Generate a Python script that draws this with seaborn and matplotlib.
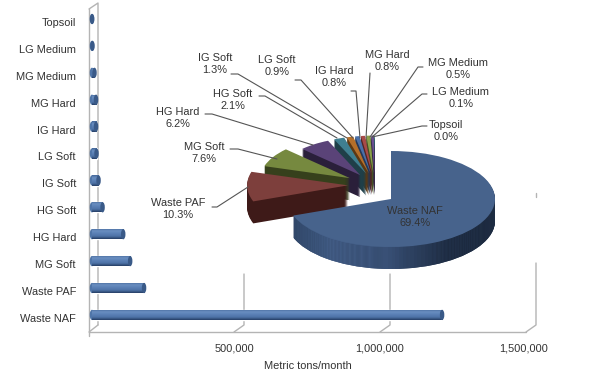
import matplotlib
matplotlib.use("Agg")
import matplotlib.pyplot as plt
import numpy as np
import seaborn as sns
from matplotlib.colors import LinearSegmentedColormap
from matplotlib.patches import Ellipse
from matplotlib.transforms import ScaledTranslation

names = ["Topsoil", "LG Medium", "MG Medium", "MG Hard", "IG Hard", "LG Soft",
         "IG Soft", "HG Soft", "HG Hard", "MG Soft", "Waste PAF", "Waste NAF"]
tons = [500, 1700, 8700, 14000, 14000, 15700, 22700, 36600, 108000, 132000, 180000, 1210000]
x_ticks = [500000, 1000000, 1500000]
x_tick_labels = ["500,000", "1,000,000", "1,500,000"]

pie_names = ["Waste NAF", "Waste PAF", "MG Soft", "HG Hard", "HG Soft", "IG Soft",
             "LG Soft", "IG Hard", "MG Hard", "MG Medium", "LG Medium", "Topsoil"]
pie_shares = [69.4, 10.3, 7.6, 6.2, 2.1, 1.3, 0.9, 0.8, 0.8, 0.5, 0.1, 0.0]
pie_top = ["#47638c", "#7d3f3c", "#76893f", "#5a4378", "#3f7f90", "#b56f2a",
           "#4a70a8", "#a84a48", "#8aa04a", "#6a4f90", "#3f7f90", "#b56f2a"]
pie_side = ["#2a3d5c", "#3e1a18", "#36401c", "#2a1f3a", "#1f3f48", "#5c3814",
            "#253858", "#542524", "#455025", "#352748", "#1f3f48", "#5c3814"]
pie_explode = [0, 0.26, 0.28, 0.25, 0.25, 0.25, 0.25, 0.25, 0.25, 0.25, 0.25, 0.25]
pie_radius = [1, 0.97, 0.86, 0.78, 0.78, 0.78, 0.78, 0.78, 0.78, 0.78, 0.78, 0.78]

TEXT = "#333333"
GRID = "#b4b4b4"
FS = 7.9
W, H = 602, 375

sns.set_theme(style="white")
plt.rcParams["font.family"] = ["Liberation Sans", "DejaVu Sans"]
plt.rcParams["font.size"] = FS

fig = plt.figure(figsize=(W / 100, H / 100), dpi=100)


def pixel_axes(z):
    a = fig.add_axes([0, 0, 1, 1], zorder=z)
    a.set_xlim(0, W)
    a.set_ylim(H, 0)
    a.axis("off")
    a.patch.set_alpha(0)
    return a


# walls and gridlines of the fake 3d bar chart
walls = pixel_axes(1)
walls.plot([89, 89, 526], [9, 332, 332], color=GRID, lw=1)
walls.plot([89, 98, 98], [9, 3, 325], color=GRID, lw=1)
walls.plot([89, 98], [332, 325], color=GRID, lw=1)
for front, top in zip([234, 380, 526], [274, 274, 263]):
    walls.plot([front, front + 10, front + 10], [332, 325, top], color=GRID, lw=1)
walls.plot([536, 536], [193, 197], color=GRID, lw=1)
walls.plot([89, 89], [332, 336], color=GRID, lw=1)

# bars
per_px = 1e6 / 291.5
ax = fig.add_axes([89 / W, 1 - 332 / H, (526 - 89) / W, (332 - 5) / H], zorder=2)
ax.patch.set_alpha(0)
sns.barplot(x=tons, y=names, orient="h", color="#4f75a8", width=0.38, ax=ax)
bar_cmap = LinearSegmentedColormap.from_list("bar", ["#46699b", "#6a8ec0", "#5a80b5", "#4d72a6", "#263f66"])
grad = np.linspace(0, 1, 32).reshape(-1, 1)
for i, p in enumerate(list(ax.patches)):
    x0, w = p.get_x(), p.get_width()
    y0, h = p.get_y(), p.get_height()
    im = ax.imshow(grad, cmap=bar_cmap, aspect="auto", extent=(x0, x0 + w, y0 + h, y0), zorder=3)
    im.set_clip_path(p)
    cap = 4.5 * per_px
    ax.add_patch(Ellipse((x0, i), cap, h, color="#4f75a8", lw=0, zorder=2))
    ax.add_patch(Ellipse((x0 + w, i), cap, h, color="#3a5a88", lw=0, zorder=4))
ax.set_xlim(-3 * per_px, 434 * per_px)
ax.set_ylim((332 - 19) / 26.9, (5 - 19) / 26.9)
ax.set_xticks(x_ticks)
ax.set_xticklabels(x_tick_labels, color=TEXT)
ax.tick_params(axis="x", length=0, pad=8, labelsize=FS)
ax.tick_params(axis="y", length=0, pad=9.4, colors=TEXT, labelsize=FS)
shift = ScaledTranslation(-2 / 100, 0, fig.dpi_scale_trans)
for lbl in ax.get_xticklabels():
    lbl.set_transform(lbl.get_transform() + shift)
down = ScaledTranslation(0, -3 / 100, fig.dpi_scale_trans)
for lbl in ax.get_yticklabels():
    lbl.set_transform(lbl.get_transform() + down)
ax.set_xlabel("Metric tons/month", color=TEXT, labelpad=6, fontsize=FS)
ax.set_ylabel("")
sns.despine(ax=ax, left=True, bottom=True)

# exploded pie, squashed and extruded by stacking wedges
RX, RY, DEPTH = 104.0, 48.0, 22
NAF_C = (391, 199)
REST_C = (375, 185)
pie_ax = fig.add_axes([0, 0, 1, 1], zorder=3)
side_cmap = LinearSegmentedColormap.from_list("side", ["#2b4060", "#45608a", "#3a5278", "#1e2c42", "#1a2638"])
for level in range(DEPTH, -1, -1):
    top = level == 0
    colors = pie_top if top else pie_side
    lift = (DEPTH - level) * 0.01
    # everything but Waste NAF first, front slices above the ones behind them
    rest_colors = ["none"] + list(colors[1:])
    wedges, _ = pie_ax.pie(pie_shares, colors=rest_colors, explode=pie_explode, startangle=90,
                           counterclock=False, center=(0, -level / RY),
                           wedgeprops={"lw": 0})
    for k, wd in enumerate(wedges):
        wd.set_zorder(len(wedges) - k + lift)
        wd.set_radius(pie_radius[k])
    naf, _ = pie_ax.pie([pie_shares[0], sum(pie_shares[1:])], colors=[colors[0], "none"],
                        startangle=90, counterclock=False,
                        center=((NAF_C[0] - REST_C[0]) / RX, (REST_C[1] - NAF_C[1] - level) / RY),
                        wedgeprops={"lw": 0})
    naf[0].set_zorder(20 + lift)
    if not top:
        im = pie_ax.imshow(np.linspace(0, 1, 64).reshape(1, -1), cmap=side_cmap, aspect="auto",
                           extent=(-1.0, 1.25, -3, 3), zorder=20 + lift)
        im.set_clip_path(naf[0])
pie_ax.set_aspect("auto")
pie_ax.set_xlim(-REST_C[0] / RX, (W - REST_C[0]) / RX)
pie_ax.set_ylim((REST_C[1] - H) / RY, REST_C[1] / RY)
pie_ax.patch.set_alpha(0)
pie_ax.axis("off")

# labels and leader lines
top_ax = pixel_axes(4)
label_pos = {
    "Waste NAF": (415, 217), "Waste PAF": (178, 209), "MG Soft": (204, 153.5),
    "HG Hard": (178, 118), "HG Soft": (233, 100), "IG Soft": (215, 64),
    "LG Soft": (277, 66), "IG Hard": (334, 77.5), "MG Hard": (387, 61),
    "MG Medium": (458, 69), "LG Medium": (461, 98), "Topsoil": (446, 131),
}
leaders = [
    [(212, 207), (217, 207), (248, 187)],
    [(230, 149), (238, 149), (277, 159)],
    [(205, 114), (212, 114), (313, 145)],
    [(259, 96), (265, 96), (337, 138)],
    [(231, 74), (238, 74), (347, 138)],
    [(295, 80), (301, 80), (353, 138)],
    [(351, 91), (356, 91), (360, 138)],
    [(370, 73), (366, 138)],
    [(423, 67), (418, 67), (370, 137)],
    [(427, 94), (422, 94), (372, 137)],
    [(427, 126), (422, 126), (372, 137)],
]
for pts in leaders:
    xs, ys = zip(*pts)
    top_ax.plot(xs, ys, color="#555555", lw=0.8)
for n, s in zip(pie_names, pie_shares):
    x, y = label_pos[n]
    top_ax.text(x, y, f"{n}\n{s:.1f}%", ha="center", va="center", color=TEXT, linespacing=1.25)

fig.savefig("out.png", dpi=100)
